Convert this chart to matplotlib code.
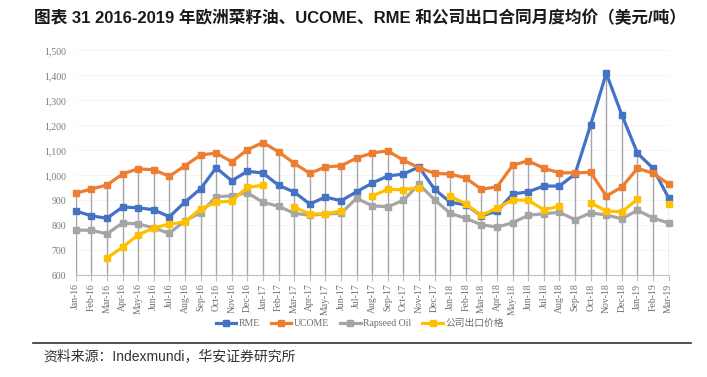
import numpy as np
import matplotlib
matplotlib.use("Agg")
import matplotlib.pyplot as plt
from matplotlib.lines import Line2D

nan = np.nan
months = ["Jan-16","Feb-16","Mar-16","Apr-16","May-16","Jun-16","Jul-16","Aug-16","Sep-16","Oct-16","Nov-16","Dec-16",
          "Jan-17","Feb-17","Mar-17","Apr-17","May-17","Jun-17","Jul-17","Aug-17","Sep-17","Oct-17","Nov-17","Dec-17",
          "Jan-18","Feb-18","Mar-18","Apr-18","May-18","Jun-18","Jul-18","Aug-18","Sep-18","Oct-18","Nov-18","Dec-18",
          "Jan-19","Feb-19","Mar-19"]

rme = [857, 838, 828, 873, 870, 862, 834, 893, 946, 1030, 978, 1016,
       1009, 960, 933, 885, 913, 898, 934, 969, 997, 1005, 1033, 944,
       892, 882, 838, 856, 925, 934, 957, 957, 1005, 1202, 1408, 1241,
       1088, 1028, 908]
ucome = [928, 945, 961, 1005, 1026, 1022, 996, 1038, 1081, 1089, 1054, 1102,
         1131, 1094, 1048, 1008, 1033, 1038, 1069, 1089, 1098, 1060, 1030, 1008,
         1005, 989, 944, 954, 1040, 1058, 1028, 1010, 1010, 1012, 917, 953,
         1028, 1008, 965]
rapeseed = [781, 780, 766, 809, 806, 789, 768, 818, 850, 914, 918, 930,
            892, 876, 848, 840, 845, 848, 908, 878, 874, 900, 964, 902,
            848, 828, 802, 793, 810, 840, 846, 852, 822, 850, 841, 826,
            860, 829, 809]
company = [nan, nan, 669, 712, 762, 789, 805, 813, 866, 892, 897, 952,
           960, nan, 873, 845, 846, 857, nan, 917, 944, 942, 950, nan,
           917, 885, 840, 869, 901, 900, 862, 876, nan, 890, 857, 854,
           904, nan, 886]

series_names = ["RME", "UCOME", "Rapseed Oil", "公司出口价格"]
series_vals = [rme, ucome, rapeseed, company]
colors = ["#4472C4", "#ED7D31", "#A5A5A5", "#FFC000"]
yticks = [600, 700, 800, 900, 1000, 1100, 1200, 1300, 1400, 1500]

serif = ["Liberation Serif", "Noto Sans CJK SC"]
sans = ["Liberation Sans", "Noto Sans CJK SC"]

fig = plt.figure(figsize=(7.07, 3.77), dpi=100)
ax = fig.add_axes([0.1071, 0.2698, 0.8387, 0.5968])

x = np.arange(len(months))
allv = np.array(series_vals, dtype=float)
tops = np.nanmax(allv, axis=0)
ax.vlines(x, 600, tops, color="#a6a6a6", lw=1.0, zorder=1)

for name, vals, c in zip(series_names, series_vals, colors):
    ax.plot(x, vals, color=c, lw=2.3, marker="s", markersize=4.5,
            markerfacecolor=c, markeredgecolor=c, zorder=3, label=name, clip_on=False)

ax.set_xlim(0, len(months) - 1)
ax.set_ylim(600, 1500)
ax.set_yticks(yticks)
ax.set_yticklabels([f"{v:,}" for v in yticks], fontfamily=serif, fontsize=7, color="#7a7a7a")
ax.set_xticks(x)
ax.set_xticklabels(months, rotation=90, fontfamily=serif, fontsize=7, color="#6e6e6e")
ax.tick_params(axis="x", length=4, color="#bfbfbf", pad=2)
ax.tick_params(axis="y", length=0, pad=7)
for s in ["top", "right", "left"]:
    ax.spines[s].set_visible(False)
ax.spines["bottom"].set_color("#bfbfbf")
ax.grid(axis="y", color="#f4f4f4", lw=0.6, zorder=0)
ax.set_axisbelow(True)

handles = [Line2D([], [], color=c, lw=2.3, marker="s", markersize=4.5) for c in colors]
fig.legend(handles, series_names, loc="center", bbox_to_anchor=(0.509, 0.141), ncol=4,
           frameon=False, prop={"family": serif, "size": 7}, labelcolor="#6e6e6e",
           handlelength=2.1, columnspacing=1.1, handletextpad=0.3)

fig.text(0.509, 0.952, "图表 31 2016-2019 年欧洲菜籽油、UCOME、RME 和公司出口合同月度均价（美元/吨）",
         ha="center", va="center", fontsize=12, fontweight="bold", family=sans, color="#1a1a1a")

fig.add_artist(Line2D([33/707, 691/707], [1-343/377, 1-343/377], color="#333333", lw=1.2))
fig.text(43/707, 1-356/377, "资料来源：Indexmundi，华安证券研究所", ha="left", va="center",
         fontsize=10, family=sans, color="#333333")

fig.savefig("out.png", dpi=100)
